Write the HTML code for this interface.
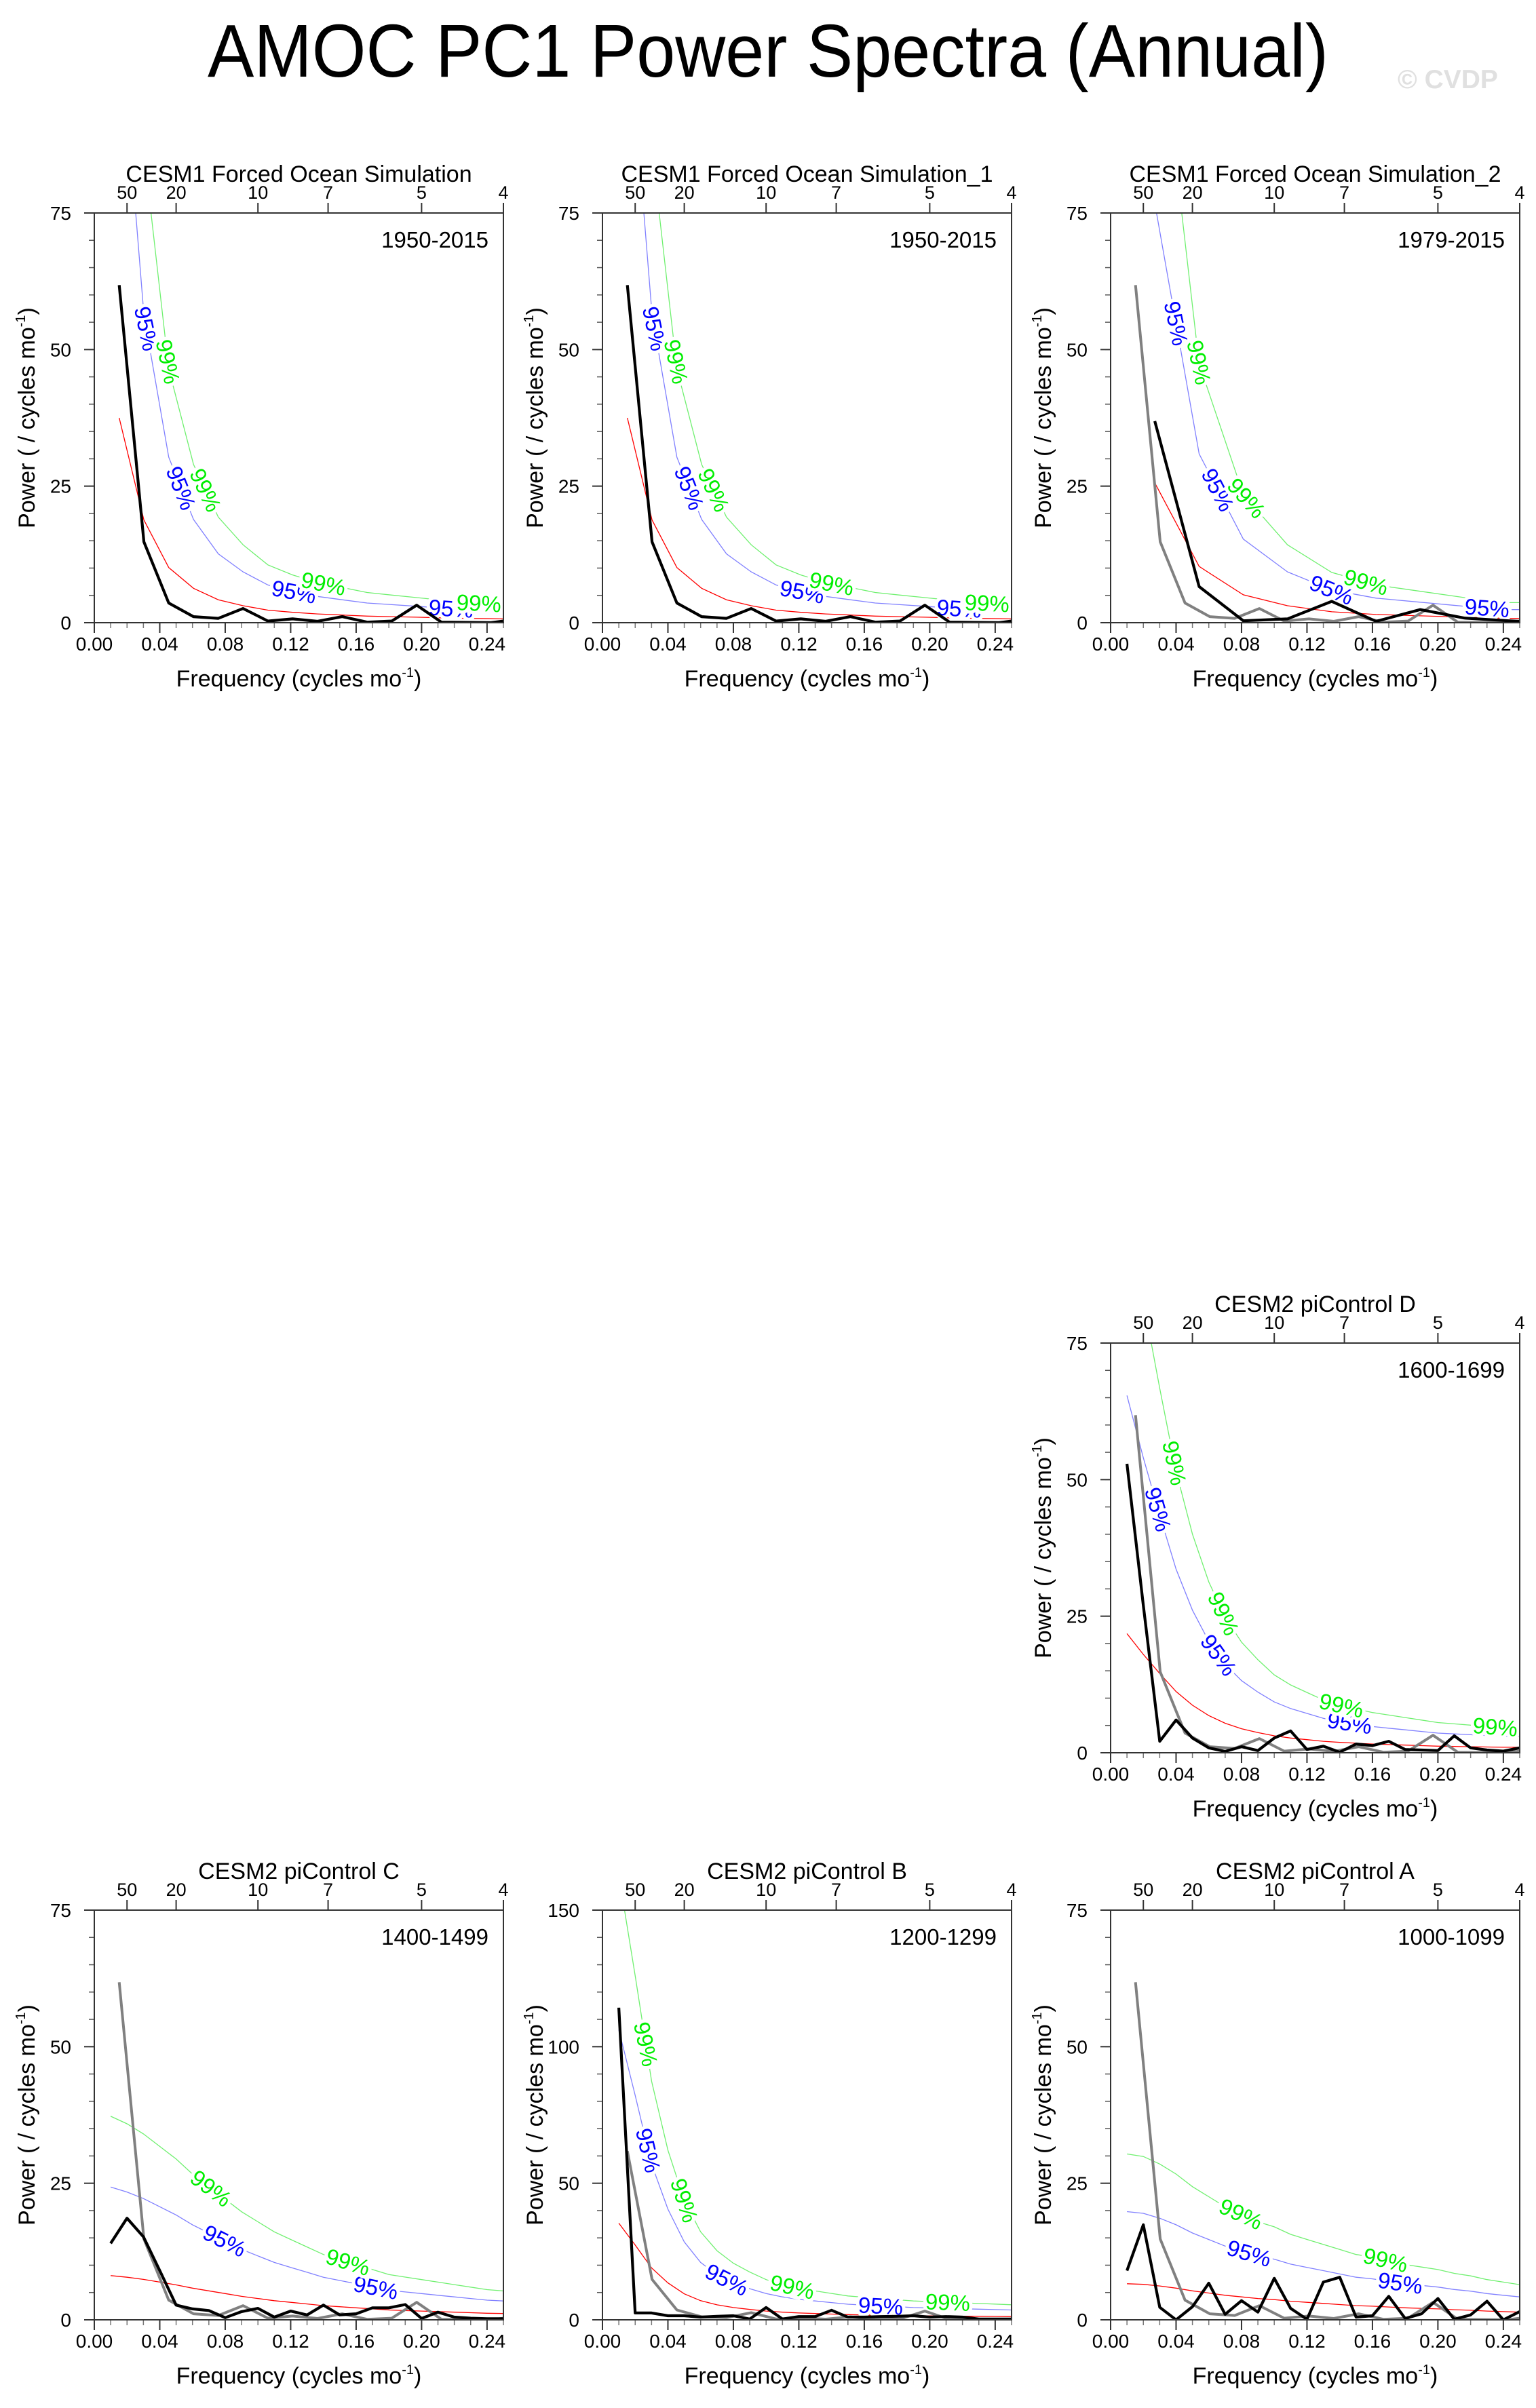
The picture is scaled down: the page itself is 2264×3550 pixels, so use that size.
<!DOCTYPE html>
<html><head><meta charset="utf-8"><title>AMOC PC1 Power Spectra (Annual)</title>
<style>
html,body{margin:0;padding:0;background:#fff;}
svg{display:block;font-family:"Liberation Sans",Arial,sans-serif;}
</style></head>
<body>
<svg id="fig" xmlns="http://www.w3.org/2000/svg" width="2264" height="3550" viewBox="0 0 2264 3550">
<rect width="2264" height="3550" fill="#fff"/>
<text x="1132" y="113" font-size="110" text-anchor="middle" textLength="1652" lengthAdjust="spacingAndGlyphs">AMOC PC1 Power Spectra (Annual)</text>
<text x="2060" y="130" font-size="39" font-weight="bold" fill="#e0e0e0">© CVDP</text>
</svg>
<script>
// ---- data ----
const cesm1Freq = [0.0152,0.0303,0.0455,0.0606,0.0758,0.0909,0.1061,0.1212,0.1364,0.1515,0.1667,0.1818,0.1970,0.2121,0.2273,0.2424,0.25];
const cesm1Power = [61.8,14.8,3.6,1.1,0.8,2.6,0.3,0.7,0.25,1.1,0.1,0.3,3.2,0.1,0.05,0,0.3];
const cesm1Red = [37.5,18.8,10.1,6.3,4.2,3.1,2.3,1.9,1.6,1.4,1.2,1.1,1.0,0.9,0.8,0.75,0.7];
const cesm1bPower = [61.8,14.8,3.6,1.1,0.8,2.6,0.3,0.7,0.25,1.1,0.1,0.3,3.2,0.1,0.05,0,0.3];
const cesm1bRed = [37.5,18.8,10.1,6.3,4.2,3.1,2.3,1.9,1.6,1.4,1.2,1.1,1.0,0.9,0.8,0.75,0.7];
const cesm1cFreq = [0.0270,0.0541,0.0811,0.1081,0.1351,0.1622,0.1892,0.2162,0.2432,0.25];
const cesm1cPower = [36.9,6.6,0.35,0.7,3.9,0.25,2.4,0.85,0.35,0.25];
const cesm1cRed = [25.6,10.3,5.1,3.1,2.0,1.5,1.25,1.0,0.8,0.8];
const piFreq = [0.01,0.02,0.03,0.04,0.05,0.06,0.07,0.08,0.09,0.10,0.11,0.12,0.13,0.14,0.15,0.16,0.17,0.18,0.19,0.20,0.21,0.22,0.23,0.24,0.25];
const piDPower = [52.9,27,2.1,6.0,2.7,0.9,0.25,1.1,0.4,2.7,4.0,0.6,1.2,0.1,1.6,1.3,2.1,0.6,0.5,0.4,3.1,0.9,0.5,0.3,0.9];
const piDRed = [21.8,18,14.5,11.2,8.7,6.8,5.4,4.4,3.7,3.1,2.7,2.4,2.1,1.9,1.75,1.6,1.5,1.4,1.3,1.2,1.15,1.1,1.05,1.0,1.0];
const piCPower = [14.0,18.6,15.2,9.0,2.7,2.0,1.7,0.4,1.5,2.1,0.5,1.6,0.9,2.7,0.9,1.1,2.2,2.2,2.8,0.25,1.4,0.5,0.3,0.2,0.2];
const piCRed = [8.1,7.8,7.4,6.9,6.4,5.8,5.3,4.8,4.3,3.9,3.5,3.2,2.9,2.6,2.4,2.2,2.0,1.8,1.7,1.6,1.5,1.4,1.3,1.2,1.15];
const piBPower = [114.3,2.5,2.5,1.5,1.5,1.0,1.3,1.5,0.3,4.5,0.3,1.2,1.2,3.5,1.0,1.0,1.2,1.3,1.5,1.0,1.2,1.0,0.3,0.3,0.3];
const piBRed = [35.4,27.4,19,13.5,9.5,7.0,5.5,4.5,3.8,3.2,2.8,2.5,2.3,2.1,1.9,1.8,1.7,1.6,1.5,1.45,1.4,1.35,1.3,1.25,1.2];
const piAPower = [9.0,17.4,2.3,0,2.4,6.7,1.0,3.5,1.4,7.6,2.1,0.1,6.9,7.8,0.5,0.75,4.3,0.25,1.1,3.9,0.1,0.9,3.4,0,1.5];
const piARed = [6.6,6.5,6.2,5.8,5.3,4.9,4.5,4.2,3.9,3.7,3.4,3.2,3.0,2.8,2.6,2.5,2.35,2.2,2.1,2.0,1.85,1.75,1.6,1.5,1.4];
const sig95Factor = 3.0;
const sig99Factor = 4.6;
const xTickLabels = ["0.00","0.04","0.08","0.12","0.16","0.20","0.24"];
const periodTickLabels = ["50","20","10","7","5","4"];
const periodTickValues = [50,20,10,7,5,4];

const NS = "http://www.w3.org/2000/svg";
const svg = document.getElementById('fig');
const PW = 603, PH = 604;

const panels = [
  {key:'cesm1',title:'CESM1 Forced Ocean Simulation',years:'1950-2015',x:139,y:314,ymax:75,yt:[0,25,50,75],freq:cesm1Freq,pow:cesm1Power,red:cesm1Red,gray:false,l95:[0.0318,0.053,0.122,0.218],l99:[0.045,0.068,0.140,0.235]},
  {key:'cesm1-1',title:'CESM1 Forced Ocean Simulation_1',years:'1950-2015',x:888,y:314,ymax:75,yt:[0,25,50,75],freq:cesm1Freq,pow:cesm1bPower,red:cesm1bRed,gray:false,l95:[0.0318,0.053,0.122,0.218],l99:[0.045,0.068,0.140,0.235]},
  {key:'cesm1-2',title:'CESM1 Forced Ocean Simulation_2',years:'1979-2015',x:1637,y:314,ymax:75,yt:[0,25,50,75],freq:cesm1cFreq,pow:cesm1cPower,red:cesm1cRed,gray:true,l95:[0.040,0.0655,0.135,0.230],l99:[0.054,0.083,0.156]},
  {key:'picontrol-d',title:'CESM2 piControl D',years:'1600-1699',x:1637,y:1980,ymax:75,yt:[0,25,50,75],freq:piFreq,pow:piDPower,red:piDRed,gray:true,l95:[0.029,0.066,0.146],l99:[0.039,0.069,0.141,0.235]},
  {key:'picontrol-c',title:'CESM2 piControl C',years:'1400-1499',x:139,y:2816,ymax:75,yt:[0,25,50,75],freq:piFreq,pow:piCPower,red:piCRed,gray:true,l95:[0.0796,0.172],l99:[0.0713,0.155]},
  {key:'picontrol-b',title:'CESM2 piControl B',years:'1200-1299',x:888,y:2816,ymax:150,yt:[0,50,100,150],freq:piFreq,pow:piBPower,red:piBRed,gray:true,l95:[0.028,0.076,0.170],l99:[0.0265,0.050,0.116,0.211]},
  {key:'picontrol-a',title:'CESM2 piControl A',years:'1000-1099',x:1637,y:2816,ymax:75,yt:[0,25,50,75],freq:piFreq,pow:piAPower,red:piARed,gray:true,l95:[0.0846,0.177],l99:[0.0796,0.168]}
];

function mk(tag, attrs, parent){
  const e = document.createElementNS(NS, tag);
  for (const k in attrs) e.setAttribute(k, attrs[k]);
  (parent||svg).appendChild(e);
  return e;
}

panels.forEach((p, pi) => {
  const g = mk('g', {});
  
  
  const xs = f => p.x + f / 0.25 * PW;
  const ys = v => p.y + PH - v / p.ymax * PH;
  const clipId = 'clip' + pi;
  const cp = mk('clipPath', {id: clipId}, g);
  mk('rect', {x:p.x, y:p.y, width:PW, height:PH}, cp);

  const t = mk('text', {x:p.x+PW/2, y:p.y-46, 'font-size':34, 'text-anchor':'middle'}, g);
  
  
  t.textContent = p.title;

  const yl = mk('text', {x:p.x+PW-22, y:p.y+51, 'font-size':33, 'text-anchor':'end'}, g);
  
  
  yl.textContent = p.years;

  const minorStep = p.ymax / 15;
  for (let i = 0; i <= 15; i++) {
    const yy = ys(i * minorStep);
    const tk = mk('line', {x1:p.x-8, x2:p.x, y1:yy, y2:yy, stroke:'#555', 'stroke-width':1.5}, g);
    
    
  }
  p.yt.forEach(v => {
    const yy = ys(v);
    const tk = mk('line', {x1:p.x-15, x2:p.x, y1:yy, y2:yy, stroke:'#333', 'stroke-width':2}, g);
    
    
    const lb = mk('text', {x:p.x-34, y:yy+10, 'font-size':28, 'text-anchor':'end'}, g);
    
    
    lb.textContent = String(v);
  });
  for (let i = 0; i <= 25; i++) {
    const xx = xs(i * 0.01);
    const major = (i % 4 === 0);
    const tk = mk('line', {x1:xx, x2:xx, y1:p.y+PH, y2:p.y+PH+(major?15:8), stroke:major?'#333':'#777', 'stroke-width':major?2:1.5}, g);
    
    
  }
  xTickLabels.forEach((s, i) => {
    const lb = mk('text', {x:xs(i*0.04), y:p.y+PH+41, 'font-size':28, 'text-anchor':'middle'}, g);
    
    
    lb.textContent = s;
  });
  periodTickValues.forEach((per, i) => {
    const xx = xs(1/per);
    const tk = mk('line', {x1:xx, x2:xx, y1:p.y-15, y2:p.y, stroke:'#333', 'stroke-width':2}, g);
    
    
    const lb = mk('text', {x:xx, y:p.y-21, 'font-size':27, 'text-anchor':'middle'}, g);
    
    
    lb.textContent = periodTickLabels[i];
  });
  const xt = mk('text', {x:p.x+PW/2, y:p.y+PH+94, 'font-size':34, 'text-anchor':'middle'}, g);
  
  
  xt.innerHTML = 'Frequency (cycles mo<tspan font-size="20" dy="-14">-1</tspan><tspan dy="14">)</tspan>';
  const ytl = mk('text', {x:0, y:0, 'font-size':34, 'text-anchor':'middle', transform:'translate('+(p.x-88)+','+(p.y+PH/2)+') rotate(-90)'}, g);
  
  
  ytl.innerHTML = 'Power ( / cycles mo<tspan font-size="20" dy="-14">-1</tspan><tspan dy="14">)</tspan>';

  const pts = (arr, fr, fac) => arr.map((v, i) => xs(fr[i]).toFixed(1) + ',' + ys(v * fac).toFixed(1)).join(' ');
  const pg = mk('g', {'clip-path':'url(#'+clipId+')'}, g);
  const curves = [
    {fac:1, color:'#ff0000', line:'#ff0000', name:'red-noise-line'},
    {fac:sig95Factor, color:'#0000ff', line:'#8080ff', name:'sig95-line', labels:p.l95, text:'95%'},
    {fac:sig99Factor, color:'#00ee00', line:'#70f070', name:'sig99-line', labels:p.l99, text:'99%'}
  ];
  curves.forEach(c => {
    const ln = mk('polyline', {points:pts(p.red, p.freq, c.fac), fill:'none', stroke:c.line, 'stroke-width':1.3}, pg);
    
    
  });
  curves.forEach(c => {
    if (!c.labels) return;
    c.labels.forEach(f => {
      let i = 0;
      while (i < p.freq.length - 2 && p.freq[i+1] < f) i++;
      const x0 = xs(p.freq[i]), x1 = xs(p.freq[i+1]);
      const y0 = ys(p.red[i]*c.fac), y1 = ys(p.red[i+1]*c.fac);
      const tt = (xs(f) - x0) / (x1 - x0);
      const cx = xs(f), cy = y0 + (y1 - y0) * tt;
      let ang = Math.atan2(y1 - y0, x1 - x0) * 180 / Math.PI;
      if (ang > 78) ang = 78;
      const lb = mk('text', {x:0, y:0, 'font-size':33, 'text-anchor':'middle', 'dominant-baseline':'central', fill:c.color, stroke:'#fff', 'stroke-width':10, 'paint-order':'stroke', transform:'translate('+cx.toFixed(1)+','+cy.toFixed(1)+') rotate('+ang.toFixed(1)+')'}, pg);
      
      
      lb.textContent = c.text;
    });
  });
  if (p.gray) {
    const gl = mk('polyline', {points:pts(cesm1Power, cesm1Freq, 1), fill:'none', stroke:'#808080', 'stroke-width':4, 'stroke-linejoin':'round'}, pg);
    
    
  }
  const bl = mk('polyline', {points:pts(p.pow, p.freq, 1), fill:'none', stroke:'#000', 'stroke-width':4.2, 'stroke-linejoin':'round'}, pg);
  
  

  const fr = mk('rect', {x:p.x, y:p.y, width:PW, height:PH, fill:'none', stroke:'#333', 'stroke-width':2}, g);
  
  
});
</script>
</body></html>
